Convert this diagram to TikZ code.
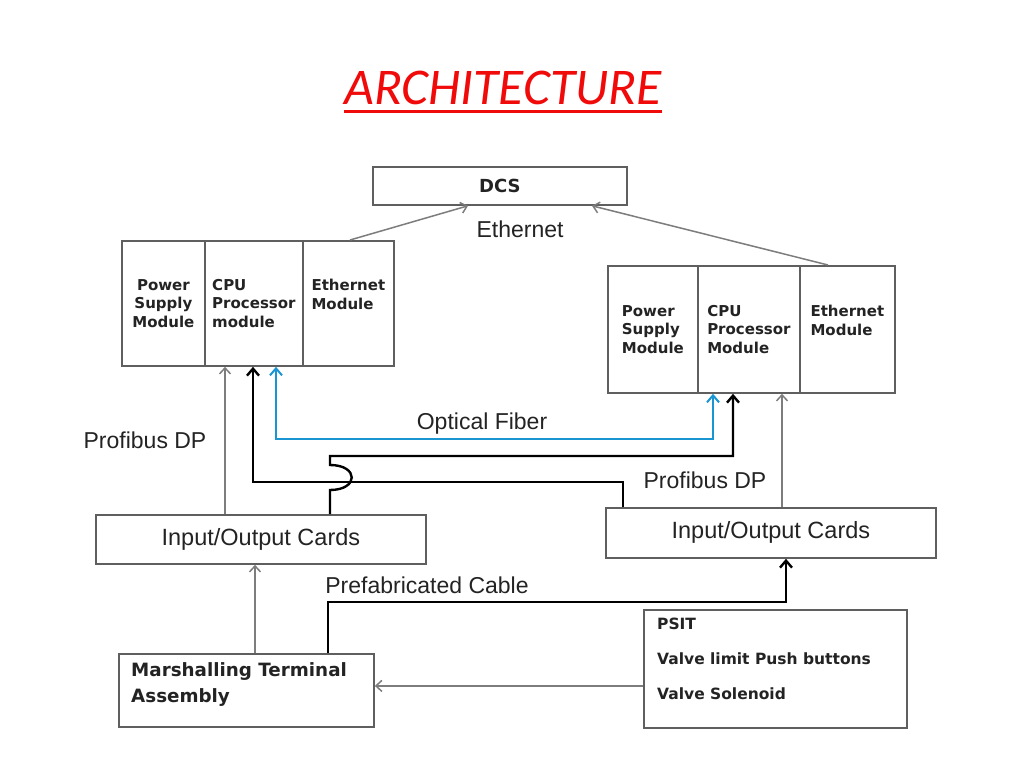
\documentclass[tikz,border=0pt]{standalone}
\usepackage{fontspec}
\setmainfont{Liberation Sans}
\newfontfamily\boxfont{DejaVu Sans}
\newfontfamily\titlefont{Carlito}
\usetikzlibrary{arrows.meta}
\definecolor{boxgray}{RGB}{95,95,95}
\definecolor{linegray}{RGB}{125,125,125}
\definecolor{fiber}{RGB}{25,150,210}
\definecolor{titlered}{RGB}{240,10,10}
\definecolor{textdark}{RGB}{35,35,35}
\begin{document}
\begin{tikzpicture}[x=1pt,y=-1pt,
  box/.style={draw=boxgray, line width=1.8pt, rectangle, inner sep=0pt, anchor=north west},
  cell/.style={box, minimum height=#1},
  cellfont/.style={font=\boxfont\bfseries\fontsize{15}{18.5}\selectfont, text=textdark},
  lbl/.style={font=\fontsize{23}{26}\selectfont, text=textdark, inner sep=0pt},
  garr/.style={draw=linegray, line width=1.5pt, -{Straight Barb[length=6pt,width=11pt]}},
  barr/.style={draw=black, line width=2.4pt, -{Straight Barb[length=7pt,width=12pt]}},
  blarr/.style={draw=fiber, line width=2pt, {Straight Barb[length=7pt,width=12pt]}-{Straight Barb[length=7pt,width=12pt]}}
]
\useasboundingbox (0,0) rectangle (1024,768);
\fill[white] (0,0) rectangle (1024,768);

% title
\node[anchor=base, inner sep=0pt, text=titlered, font=\titlefont\itshape\fontsize{51.5}{60}\selectfont] (title) at (503,104) {ARCHITECTURE};
\draw[titlered, line width=3pt] ([yshift=-7pt]title.base west) -- ([yshift=-7pt]title.base east);

% DCS
\node[box, minimum width=254pt, minimum height=38pt, font=\boxfont\bfseries\fontsize{18}{21}\selectfont, text=textdark] (dcs) at (372,166) {DCS};

% left block
\node[cell=125pt, minimum width=83pt, cellfont, align=center] (psL) at (121,240) {Power\\Supply\\Module};
\node[cell=125pt, minimum width=98pt, cellfont, align=left] (cpuL) at (204,240) {CPU\\Processor\\module};
\node[cell=125pt, minimum width=91pt, cellfont, align=left] (ethL) at (302,240) {Ethernet\\Module\\\mbox{}};

% right block
\node[cell=127pt, minimum width=90pt, cellfont, align=left] (psR) at (607,265) {Power\\Supply\\Module};
\node[cell=127pt, minimum width=102pt, cellfont, align=left] (cpuR) at (697,265) {CPU\\Processor\\Module};
\node[cell=127pt, minimum width=95pt, cellfont, align=left] (ethR) at (799,265) {Ethernet\\Module\\\mbox{}};

% I/O cards
\node[box, minimum width=330pt, minimum height=49pt, font=\fontsize{23.5}{27}\selectfont, text=textdark] (ioL) at (95,514) {Input/Output Cards};
\node[box, minimum width=330pt, minimum height=50pt, font=\fontsize{23.5}{27}\selectfont, text=textdark] (ioR) at (605,507) {Input/Output Cards};

% Marshalling
\node[box, minimum width=255pt, minimum height=73pt] (mta) at (118,653) {};
\node[anchor=north west, inner sep=0pt, align=left, font=\boxfont\bfseries\fontsize{18.3}{26}\selectfont, text=textdark] (mtaT) at (131,662) {Marshalling Terminal\\Assembly};

% field devices
\node[box, minimum width=263pt, minimum height=118pt] (psit) at (643,609) {};
\node[anchor=north west, inner sep=0pt, align=left, font=\boxfont\bfseries\fontsize{15.5}{35}\selectfont, text=textdark] (psitT) at (657,618) {PSIT\\Valve limit Push buttons\\Valve Solenoid};

% labels
\node[lbl] (lEth) at (520,229) {Ethernet};
\node[lbl] (lProfL) at (145,440) {Profibus DP};
\node[lbl] (lOpt) at (482,424) {Optical Fiber};
\node[lbl] (lProfR) at (705,480) {Profibus DP};
\node[lbl] (lPref) at (427,585) {Prefabricated Cable};

% Ethernet links
\draw[garr] ([xshift=48pt]ethL.north west) -- ([xshift=96pt]dcs.south west);
\draw[garr] ([xshift=29pt]ethR.north west) -- ([xshift=220pt]dcs.south west);

% Profibus gray links
\draw[garr] ([xshift=130pt]ioL.north west) -- ([xshift=21pt]cpuL.south west);
\draw[garr] ([xshift=177pt]ioR.north west) -- ([xshift=85pt]cpuR.south west);

% black cross links
\draw[barr] ([xshift=18pt]ioR.north west) -- ++(0,-25) -| ([xshift=49pt]cpuL.south west);
\coordinate (hb) at (330,490);
\coordinate (ht) at (330,465);
\coordinate (hc) at (330,456);
\draw[barr] ([xshift=235pt]ioL.north west) -- (hb) .. controls +(29,0) and +(29,0) .. (ht) -- (hc) -| ([xshift=36pt]cpuR.south west);

% optical fiber
\draw[blarr] ([xshift=72pt]cpuL.south west) -- ++(0,72) -| ([xshift=16pt]cpuR.south west);

% bottom links
\draw[garr] ([xshift=137pt]mta.north west) -- ([xshift=160pt]ioL.south west);
\draw[barr] ([xshift=210pt]mta.north west) -- ++(0,-51) -| ([xshift=181pt]ioR.south west);
\draw[garr] ([yshift=-17pt]psit.west) -- ([yshift=-17pt]psit.west -| mta.east);
\end{tikzpicture}
\end{document}
